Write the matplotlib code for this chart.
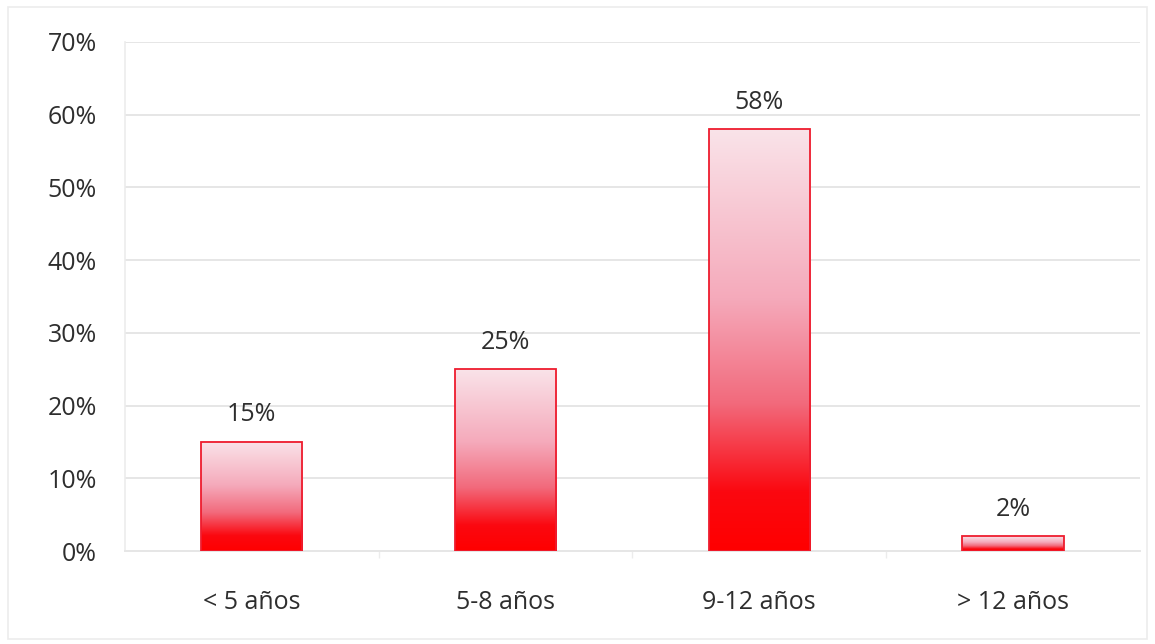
import matplotlib
matplotlib.use("Agg")
import matplotlib.pyplot as plt
import numpy as np
from matplotlib.colors import LinearSegmentedColormap
from matplotlib.patches import Rectangle

categories = ["< 5 años", "5-8 años", "9-12 años", "> 12 años"]
values = [15, 25, 58, 2]
y_ticks = [0, 10, 20, 30, 40, 50, 60, 70]
y_tick_labels = ["0%", "10%", "20%", "30%", "40%", "50%", "60%", "70%"]

plt.rcParams['font.family'] = ['Open Sans', 'DejaVu Sans']
FS = 18
TXT = "#2e2e2e"

fig = plt.figure(figsize=(11.55, 6.44), dpi=100)
ax = fig.add_axes([0.108, 0.1444, 0.879, 0.7904])

cmap = LinearSegmentedColormap.from_list(
    "grad",
    [(0.0, "#ff0000"), (0.14, "#fb0810"), (0.35, "#f26a7c"),
     (0.6, "#f5aabb"), (1.0, "#fae3e9")])
grad = np.linspace(0, 1, 256).reshape(-1, 1)

width = 0.40
x = np.arange(len(categories))
for xi, v in zip(x, values):
    ax.imshow(grad, cmap=cmap, origin="lower", aspect="auto",
              extent=(xi - width / 2, xi + width / 2, 0, v), zorder=3,
              interpolation="bilinear")
bars = ax.bar(x, values, width=width, fill=False, edgecolor="#ee1c2e",
              linewidth=1.3, zorder=4)

for xi, v in zip(x, values):
    ax.text(xi, v + 2.0, f"{v}%", ha="center", va="bottom",
            fontsize=FS, color=TXT, zorder=5)

ax.set_xlim(-0.5, len(categories) - 0.5)
ax.set_ylim(0, 70)
ax.set_yticks(y_ticks)
ax.set_yticklabels(y_tick_labels, fontsize=FS, color=TXT)
ax.set_xticks(x)
ax.set_xticklabels(categories, fontsize=FS, color=TXT)
ax.tick_params(axis="both", length=0)
ax.tick_params(axis="y", pad=20)
ax.tick_params(axis="x", pad=28)
ax.set_xticks(np.arange(-0.5, len(categories), 1.0)[1:-1], minor=True)
ax.tick_params(axis="x", which="minor", length=5, color="#ececec", width=1)

ax.grid(axis="y", color="#e6e6e6", linewidth=1.4, zorder=0)
ax.set_axisbelow(True)
for s in ["top", "right"]:
    ax.spines[s].set_visible(False)
ax.spines["left"].set_color("#ececec")
ax.spines["left"].set_linewidth(1.2)
ax.spines["bottom"].set_color("#e6e6e6")
ax.spines["bottom"].set_linewidth(1.4)

fig.patches.append(Rectangle((0.007, 0.008), 0.986, 0.981, transform=fig.transFigure,
                             fill=False, edgecolor="#ececec", linewidth=1.2))

fig.savefig("out.png", dpi=100)
